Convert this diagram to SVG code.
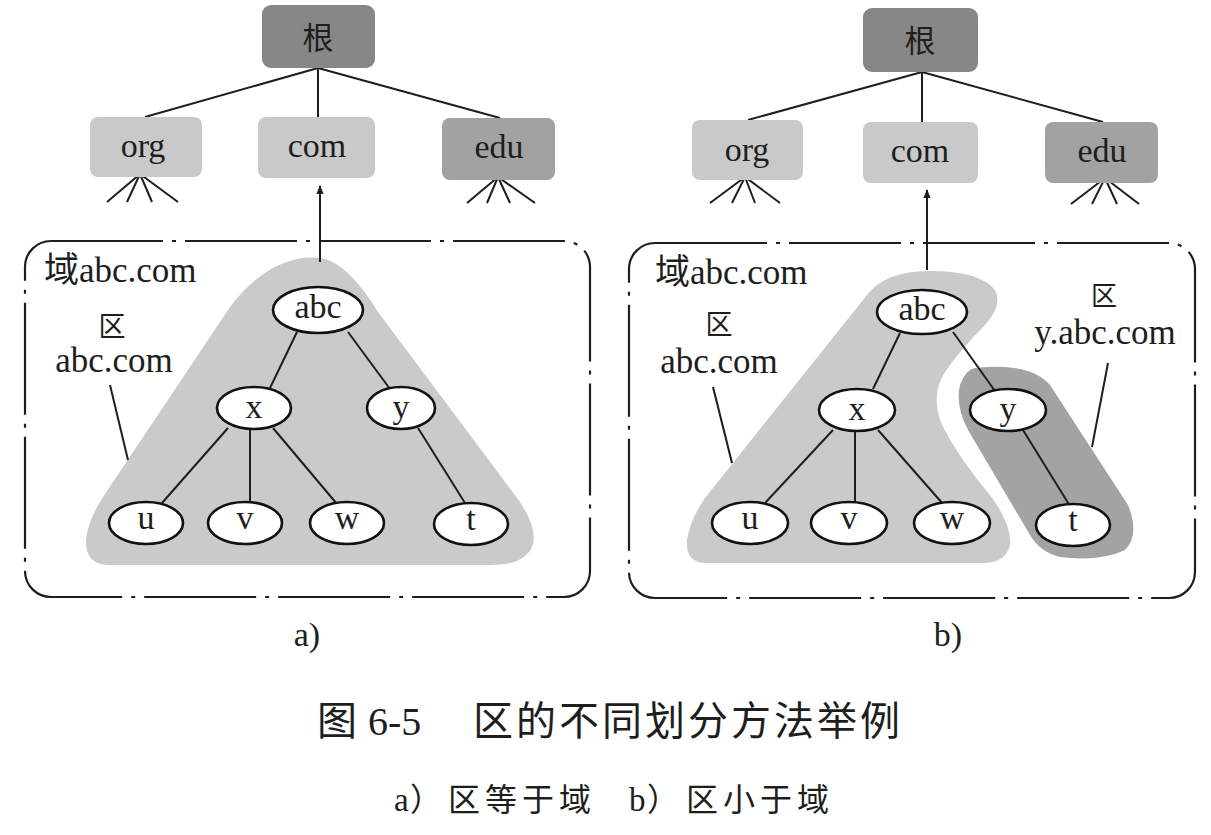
<svg xmlns="http://www.w3.org/2000/svg" width="1211" height="835" viewBox="0 0 1211 835">
<style>
  .t { font-family: "Liberation Serif", "Noto Sans CJK SC", serif; fill: #1e1e1e; }
  .cjk { font-family: "Noto Sans CJK SC", "Liberation Serif", sans-serif; fill: #1e1e1e; }
  .lbl { font-size: 34px; text-anchor: middle; }
  .box-root { fill: #878787; }
  .box-lt { fill: #c9c9c9; }
  .box-dk { fill: #a2a2a2; }
  .edge { stroke: #1e1e1e; stroke-width: 2; fill: none; }
  .fan { stroke: #1e1e1e; stroke-width: 2; fill: none; }
  .node ellipse { fill: #ffffff; stroke: #111; stroke-width: 2.6; }
  .domain { fill: none; stroke: #1e1e1e; stroke-width: 2.2; stroke-dasharray: 112 9 4 9; }
  .zone-lt { fill: #cacaca; }
  .zone-dk { fill: #a3a3a3; }
</style>
<defs>
  <marker id="arr" viewBox="0 0 10 10" refX="9" refY="5" markerWidth="9" markerHeight="9" markerUnits="userSpaceOnUse" orient="auto">
    <path d="M0,1 L10,5 L0,9 Z" fill="#1e1e1e"/>
  </marker>
</defs>
<rect width="1211" height="835" fill="#ffffff"/>

<!-- ===== Panel a ===== -->
<g id="a-domain-box"><rect class="domain" x="25" y="241" width="565" height="356" rx="26"/></g>
<g id="a-zone"><path class="zone-lt" d="M 228 310 C 262 262, 300 255, 320 258 C 340 260, 362 285, 378 312 L 520 502 Q 545 540 525 556 Q 515 565 490 565 L 110 565 Q 85 565 86 540 Q 88 520 103 497 Z"/></g>

<g id="a-connectors">
  <line class="edge" x1="318" y1="68" x2="145" y2="117"/>
  <line class="edge" x1="318" y1="68" x2="318" y2="117"/>
  <line class="edge" x1="318" y1="68" x2="500" y2="118"/>
  <g class="fan">
    <line x1="140" y1="174" x2="107" y2="202"/><line x1="140" y1="174" x2="127" y2="202"/>
    <line x1="140" y1="174" x2="152" y2="202"/><line x1="140" y1="174" x2="178" y2="202"/>
    <line x1="498" y1="177" x2="467" y2="203"/><line x1="498" y1="177" x2="487" y2="203"/>
    <line x1="498" y1="177" x2="510" y2="203"/><line x1="498" y1="177" x2="535" y2="203"/>
  </g>
  <line class="edge" x1="320" y1="262" x2="320" y2="186" marker-end="url(#arr)"/>
  <line class="edge" x1="297" y1="332" x2="270" y2="388"/>
  <line class="edge" x1="348" y1="332" x2="390" y2="389"/>
  <line class="edge" x1="228" y1="428" x2="162" y2="503"/>
  <line class="edge" x1="250" y1="429" x2="250" y2="502"/>
  <line class="edge" x1="273" y1="428" x2="337" y2="504"/>
  <line class="edge" x1="418" y1="428" x2="465" y2="503"/>
  <line class="edge" x1="110" y1="385" x2="128" y2="460"/>
</g>

<g id="a-root"><rect class="box-root" x="262" y="5" width="113" height="63" rx="9"/><text class="cjk" x="318" y="49" font-size="31" text-anchor="middle" fill="#2a2a2a">根</text></g>
<g id="a-org"><rect class="box-lt" x="90" y="117" width="112" height="60" rx="8"/><text class="t lbl" x="143" y="157">org</text></g>
<g id="a-com"><rect class="box-lt" x="258" y="117" width="117" height="61" rx="8"/><text class="t lbl" x="317" y="157">com</text></g>
<g id="a-edu"><rect class="box-dk" x="442" y="118" width="113" height="62" rx="8"/><text class="t lbl" x="499" y="158">edu</text></g>

<g id="a-abc" class="node"><ellipse cx="318" cy="310" rx="45" ry="23"/><text class="t lbl" x="318" y="318">abc</text></g>
<g id="a-x" class="node"><ellipse cx="254" cy="408" rx="37" ry="21"/><text class="t lbl" x="254" y="418">x</text></g>
<g id="a-y" class="node"><ellipse cx="401" cy="408" rx="34" ry="21"/><text class="t lbl" x="401" y="418">y</text></g>
<g id="a-u" class="node"><ellipse cx="146" cy="523" rx="37" ry="21"/><text class="t lbl" x="146" y="529">u</text></g>
<g id="a-v" class="node"><ellipse cx="245" cy="523" rx="37" ry="21"/><text class="t lbl" x="245" y="529">v</text></g>
<g id="a-w" class="node"><ellipse cx="347" cy="523" rx="37" ry="21"/><text class="t lbl" x="347" y="529">w</text></g>
<g id="a-t" class="node"><ellipse cx="471" cy="524" rx="37" ry="21"/><text class="t lbl" x="471" y="530">t</text></g>

<g id="a-labels">
  <text class="t" x="44" y="282" font-size="35">域abc.com</text>
  <text class="cjk" x="112" y="336" font-size="27" text-anchor="middle">区</text>
  <text class="t" x="114" y="372" font-size="35" text-anchor="middle">abc.com</text>
  <text class="t" x="307" y="646" font-size="34" text-anchor="middle">a)</text>
</g>

<!-- ===== Panel b ===== -->
<g id="b-domain-box"><rect class="domain" x="629" y="243" width="566" height="355" rx="26"/></g>
<g id="b-zone-abc"><path class="zone-lt" d="M 867 295 Q 885 271 930 271 Q 980 271 995 290 Q 1003 305 985 325 Q 960 350 945 372 Q 930 395 942 425 Q 960 460 990 495 Q 1012 525 1010 545 Q 1006 562 985 563 L 705 563 Q 685 562 687 540 Q 690 520 705 498 Z"/></g>
<g id="b-zone-y"><path class="zone-dk" d="M 975 368 Q 1030 362 1050 385 L 1128 505 Q 1140 535 1125 550 Q 1100 562 1060 557 Q 1040 552 1030 535 L 968 430 Q 955 405 960 385 Q 965 370 975 368 Z"/></g>

<g id="b-connectors">
  <line class="edge" x1="922" y1="72" x2="748" y2="120"/>
  <line class="edge" x1="922" y1="72" x2="922" y2="122"/>
  <line class="edge" x1="922" y1="72" x2="1103" y2="122"/>
  <g class="fan">
    <line x1="745" y1="177" x2="710" y2="203"/><line x1="745" y1="177" x2="732" y2="203"/>
    <line x1="745" y1="177" x2="755" y2="203"/><line x1="745" y1="177" x2="780" y2="203"/>
    <line x1="1105" y1="178" x2="1071" y2="204"/><line x1="1105" y1="178" x2="1092" y2="204"/>
    <line x1="1105" y1="178" x2="1117" y2="204"/><line x1="1105" y1="178" x2="1139" y2="204"/>
  </g>
  <line class="edge" x1="927" y1="270" x2="927" y2="190" marker-end="url(#arr)"/>
  <line class="edge" x1="900" y1="333" x2="873" y2="389"/>
  <line class="edge" x1="953" y1="332" x2="995" y2="391"/>
  <line class="edge" x1="833" y1="430" x2="765" y2="503"/>
  <line class="edge" x1="855" y1="431" x2="855" y2="502"/>
  <line class="edge" x1="878" y1="430" x2="943" y2="504"/>
  <line class="edge" x1="1023" y1="430" x2="1070" y2="506"/>
  <line class="edge" x1="713" y1="387" x2="732" y2="463"/>
  <line class="edge" x1="1108" y1="363" x2="1092" y2="447"/>
</g>

<g id="b-root"><rect class="box-root" x="863" y="8" width="115" height="64" rx="9"/><text class="cjk" x="920" y="52" font-size="31" text-anchor="middle" fill="#2a2a2a">根</text></g>
<g id="b-org"><rect class="box-lt" x="692" y="120" width="111" height="60" rx="8"/><text class="t lbl" x="747" y="161">org</text></g>
<g id="b-com"><rect class="box-lt" x="863" y="122" width="115" height="61" rx="8"/><text class="t lbl" x="920" y="162">com</text></g>
<g id="b-edu"><rect class="box-dk" x="1045" y="122" width="113" height="61" rx="8"/><text class="t lbl" x="1102" y="162">edu</text></g>

<g id="b-abc" class="node"><ellipse cx="922" cy="312" rx="45" ry="22"/><text class="t lbl" x="922" y="320">abc</text></g>
<g id="b-x" class="node"><ellipse cx="857" cy="410" rx="38" ry="21"/><text class="t lbl" x="857" y="420">x</text></g>
<g id="b-y" class="node"><ellipse cx="1008" cy="410" rx="38" ry="21"/><text class="t lbl" x="1008" y="420">y</text></g>
<g id="b-u" class="node"><ellipse cx="750" cy="523" rx="38" ry="21"/><text class="t lbl" x="750" y="529">u</text></g>
<g id="b-v" class="node"><ellipse cx="849" cy="523" rx="38" ry="21"/><text class="t lbl" x="849" y="529">v</text></g>
<g id="b-w" class="node"><ellipse cx="952" cy="523" rx="38" ry="21"/><text class="t lbl" x="952" y="529">w</text></g>
<g id="b-t" class="node"><ellipse cx="1073" cy="525" rx="37" ry="21"/><text class="t lbl" x="1073" y="531">t</text></g>

<g id="b-labels">
  <text class="t" x="655" y="284" font-size="35">域abc.com</text>
  <text class="cjk" x="719" y="334" font-size="27" text-anchor="middle">区</text>
  <text class="t" x="719" y="373" font-size="35" text-anchor="middle">abc.com</text>
  <text class="cjk" x="1104" y="305" font-size="26" text-anchor="middle">区</text>
  <text class="t" x="1105" y="344" font-size="35" text-anchor="middle">y.abc.com</text>
  <text class="t" x="948" y="646" font-size="34" text-anchor="middle">b)</text>
</g>

<!-- ===== Caption ===== -->
<g id="caption">
  <text class="cjk" x="317" y="735" font-size="40">图</text>
  <text class="t" x="368" y="735" font-size="40">6-5</text>
  <text class="cjk" x="473" y="735" font-size="40" letter-spacing="3">区的不同划分方法举例</text>
  <text class="t" x="394" y="811" font-size="33">a</text>
  <text class="cjk" x="410" y="811" font-size="32">）</text>
  <text class="cjk" x="448" y="811" font-size="32" letter-spacing="5">区等于域</text>
  <text class="t" x="629" y="811" font-size="33">b</text>
  <text class="cjk" x="647" y="811" font-size="32">）</text>
  <text class="cjk" x="686" y="811" font-size="32" letter-spacing="5">区小于域</text>
</g>
</svg>
